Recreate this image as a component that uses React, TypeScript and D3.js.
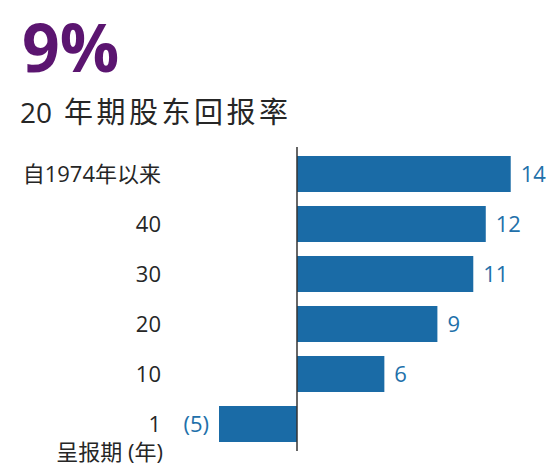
import React from "react";
import * as d3 from "d3";

const categories = ["自1974年以来", "40", "30", "20", "10", "1"];
const values = [13.7, 12.1, 11.3, 9.0, 5.6, -5.0];
const headline = "9%";
const subtitleNum = "20";
const subtitleText = "年期股东回报率";
const axisTitle = "呈报期 (年)";

const W = 551;
const H = 467;
const FONT = "'Open Sans', 'Noto Sans', 'Noto Sans CJK SC', sans-serif";
const BAR = "#1a6ba6";
const LABEL = "#2170aa";
const TEXT = "#262626";

export default function App() {
  const x = d3.scaleLinear().domain([0, 14]).range([297, 297 + 14 * 15.6]);
  const y = d3.scaleBand<string>().domain(categories).range([149, 449]).paddingInner(0.28).paddingOuter(0.14);
  const fmt = (v: number) => {
    const r = Math.round(v);
    return r < 0 ? `(${Math.abs(r)})` : `${r}`;
  };
  return (
    <svg width={W} height={H} style={{ position: "absolute", left: 0, top: 0, fontFamily: FONT }}>
      <text x={22} y={72} fontSize={66} fontWeight={700} fill="#5b1570">{headline}</text>
      <text y={123} fill={TEXT}>
        <tspan x={20} fontSize={28}>{subtitleNum}</tspan>
        <tspan x={64} fontSize={29} letterSpacing={3.5}>{subtitleText}</tspan>
      </text>
      {categories.map((c, i) => {
        const v = values[i];
        const yc = (y(c) as number) + y.bandwidth() / 2;
        const x0 = x(Math.min(0, v));
        const x1 = x(Math.max(0, v));
        return (
          <g key={c}>
            <text x={161} y={yc} dy="0.36em" textAnchor="end" fontSize={22} fill={TEXT}>{c}</text>
            <rect x={x0} y={y(c)} width={x1 - x0} height={y.bandwidth()} fill={BAR} />
            <text
              x={v < 0 ? x0 - 10 : x1 + 10}
              y={yc}
              dy="0.36em"
              textAnchor={v < 0 ? "end" : "start"}
              fontSize={22}
              fill={LABEL}
            >
              {fmt(v)}
            </text>
          </g>
        );
      })}
      <line x1={x(0)} x2={x(0)} y1={147} y2={451} stroke="#333" strokeWidth={1.5} />
      <text x={163} y={460} textAnchor="end" fontSize={22} fill={TEXT}>{axisTitle}</text>
    </svg>
  );
}
